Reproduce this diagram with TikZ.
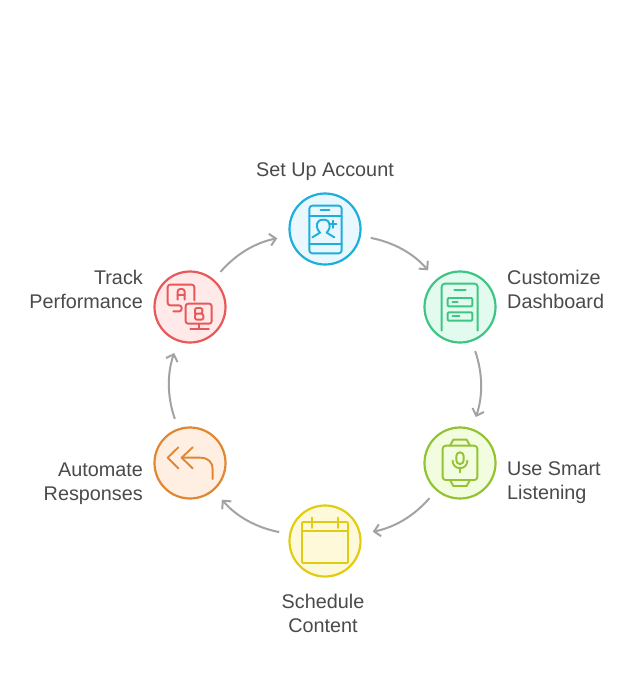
\documentclass[tikz,border=0pt]{standalone}
\usepackage{fontspec}
\setmainfont{Liberation Sans}
\usetikzlibrary{arrows.meta}
\definecolor{txt}{HTML}{4A4A4A}
\definecolor{arrowgray}{HTML}{A3A3A3}
\definecolor{blueS}{HTML}{1EAEDB}\definecolor{blueF}{HTML}{E8F8FE}
\definecolor{greenS}{HTML}{3CC583}\definecolor{greenF}{HTML}{E3FBEE}
\definecolor{limeS}{HTML}{93C332}\definecolor{limeF}{HTML}{F2FDE0}
\definecolor{yellowS}{HTML}{E2CB13}\definecolor{yellowF}{HTML}{FEFAD9}
\definecolor{orangeS}{HTML}{E18731}\definecolor{orangeF}{HTML}{FFEFE2}
\definecolor{redS}{HTML}{E85858}\definecolor{redF}{HTML}{FFE9E9}
\tikzset{
  disc/.style={circle,draw=#1S,fill=#1F,line width=2.2pt,minimum size=71pt,inner sep=0pt},
  flow/.style={draw=arrowgray,line width=2pt,-{Straight Barb[length=6pt,width=12pt,line width=2pt]},shorten <=10pt,shorten >=12pt},
  lab/.style={font=\fontsize{19.8}{24}\selectfont,text=txt,inner sep=0pt,align=#1},
  icon/.style={line width=1.9pt,draw=#1,line cap=round,line join=round},
  zoomed/.style={x=0.33333pt,y=-0.33333pt}
}
\begin{document}
\begin{tikzpicture}[x=1pt,y=-1pt]
\useasboundingbox (0,0) rectangle (638,686);
\fill[white] (0,0) rectangle (638,686);
\node[disc=blue]   (account)  at (325,229) {};
\node[disc=green]  (dash)     at (460,307) {};
\node[disc=lime]   (listen)   at (460,463) {};
\node[disc=yellow] (schedule) at (325,541) {};
\node[disc=orange] (auto)     at (190,463) {};
\node[disc=red]    (track)    at (190,307) {};
\path[flow] (account) to[bend left=19] (dash);
\path[flow] (dash) to[bend left=19] (listen);
\path[flow] (listen) to[bend left=19] (schedule);
\path[flow] (schedule) to[bend left=19] (auto);
\path[flow] (auto) to[bend left=19] (track);
\path[flow] (track) to[bend left=19] (account);
\node[lab=center] (tA) at (325,171.5) {Set Up Account};
\node[lab=left,anchor=west] (tB) at (507,289) {Customize\\Dashboard};
\node[lab=left,anchor=west] (tC) at (507,483) {Use Smart\\Listening};
\node[lab=center] (tD) at (323,613) {Schedule\\Content};
\node[lab=right,anchor=east] (tE) at (143,484) {Automate\\Responses};
\node[lab=right,anchor=east] (tF) at (143,289) {Track\\Performance};
% phone
\begin{scope}[shift={(280,185)},zoomed,icon=blueS]
\draw[rounded corners=3pt] (88,62) rectangle (185,205);
\draw (122,75) -- (148,75);
\draw (88,92) -- (185,92);
\draw (88,178) -- (185,178);
\draw (97,157) -- (120,143) .. controls (104,125) and (108,104) .. (130,104) .. controls (152,104) and (156,125) .. (140,143) -- (163,157);
\draw (147,118) -- (169,118);
\draw (158,107) -- (158,129);
\end{scope}
% cabinet
\begin{scope}[shift={(415,263)},zoomed,icon=greenS]
\draw[rounded corners=3pt] (80,203) -- (80,62) -- (188,62) -- (188,203);
\draw (118,80) -- (152,80);
\draw[rounded corners=1pt] (98,105) rectangle (172,130);
\draw[rounded corners=1pt] (98,148) rectangle (172,173);
\draw (113,118) -- (128,118);
\draw (113,160) -- (133,160);
\end{scope}
% watch
\begin{scope}[shift={(415,419)},zoomed,icon=limeS]
\draw[rounded corners=3pt] (83,80) rectangle (187,183);
\draw (105,80) -- (115,62) -- (155,62) -- (165,80);
\draw (105,183) -- (115,201) -- (155,201) -- (165,183);
\draw[rounded corners=3.6pt] (124,100) rectangle (146,135);
\draw (113,125) .. controls (113,155) and (157,155) .. (157,125);
\draw (135,147) -- (135,160);
\end{scope}
% calendar
\begin{scope}[shift={(280,497)},zoomed,icon=yellowS]
\draw[rounded corners=1pt] (66,75) rectangle (204,198);
\draw (66,102) -- (204,102);
\draw (96,62) -- (96,93);
\draw (174,62) -- (174,93);
\end{scope}
% reply all
\begin{scope}[shift={(145,419)},zoomed,icon=orangeS]
\draw (100,85) -- (68,116) -- (100,148);
\draw (143,85) -- (110,116) -- (143,148);
\draw (110,116) -- (165,116) .. controls (190,116) and (203,130) .. (203,150) -- (203,180);
\end{scope}
% A/B
\begin{scope}[shift={(145,263)},zoomed,icon=redS]
\draw[rounded corners=2.5pt] (148,112) -- (148,65) -- (68,65) -- (68,127) -- (110,127) -- (110,145) -- (85,145);
\draw[rounded corners=2.5pt] (98,110) -- (98,78) -- (119,78) -- (119,110);
\draw (98,95) -- (119,95);
\draw[rounded corners=2.5pt] (122,122) rectangle (200,182);
\draw (163,182) -- (163,197);
\draw (136,197) -- (192,197);
\draw[rounded corners=2pt] (150,152) -- (150,135) -- (172,135) -- (172,152) -- (150,152) -- (150,170) -- (175,170) -- (175,152) -- (150,152);
\end{scope}
\end{tikzpicture}
\end{document}
